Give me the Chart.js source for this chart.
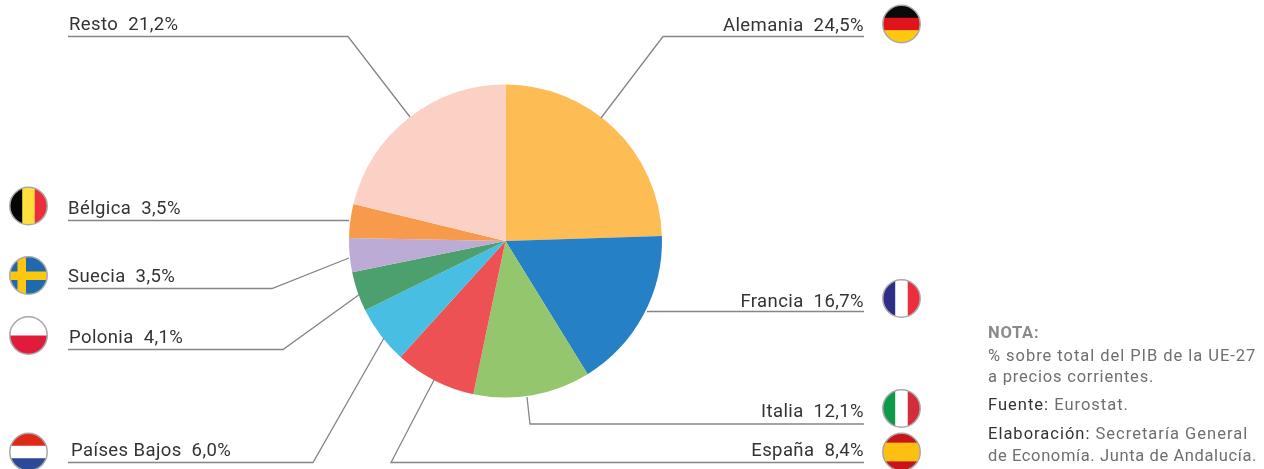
<!DOCTYPE html>
<html>
<head>
<meta charset="utf-8">
<style>
  html, body { margin: 0; padding: 0; background: #fff; overflow: hidden; }
  #wrap { width: 1264px; height: 469px; }
</style>
<script src="https://cdn.jsdelivr.net/npm/chart.js@4"></script>
</head>
<body>
<div id="wrap"><canvas id="chart" width="1264" height="469"></canvas></div>
<script>
// Values
const countries = ['Alemania', 'Francia', 'Italia', 'España', 'Países Bajos', 'Polonia', 'Suecia', 'Bélgica', 'Resto'];
const shares = [24.5, 16.7, 12.1, 8.4, 6.0, 4.1, 3.5, 3.5, 21.2];
const sliceColors = ['#fdbd54', '#2680c6', '#94c66e', '#ed5154', '#47bee2', '#4ca06e', '#bcabd4', '#f79a4b', '#fbd1c5'];

// Callout layout, same order as countries: leader polyline, label x, baseline, alignment
const callouts = [
  { line: [[601, 118], [663, 36.5], [864, 36.5]], x: 864, y: 31, align: 'right' },
  { line: [[647, 311.5], [864, 311.5]], x: 864, y: 307, align: 'right' },
  { line: [[527, 397], [530, 424], [864, 424]], x: 864, y: 417, align: 'right' },
  { line: [[434, 380], [391, 462.5], [864, 462.5]], x: 864, y: 456, align: 'right' },
  { line: [[384, 338], [313, 462.5], [68, 462.5]], x: 71, y: 456, align: 'left' },
  { line: [[360, 294], [283, 349.5], [68, 349.5]], x: 69, y: 343, align: 'left' },
  { line: [[349, 258], [272, 288.5], [68, 288.5]], x: 68, y: 282, align: 'left' },
  { line: [[349, 220.5], [68, 220.5]], x: 68, y: 214, align: 'left' },
  { line: [[410, 117], [348, 36.5], [68, 36.5]], x: 69, y: 30, align: 'left' }
];

const flags = [
  { cx: 901.5, cy: 24, dir: 'h', stripes: [['#0a0a0a', 1], ['#e1141b', 1], ['#fdc90f', 1]] },
  { cx: 901.5, cy: 298.5, dir: 'v', stripes: [['#2f2e87', 1], ['#ffffff', 1], ['#ec2d3c', 1]] },
  { cx: 901.5, cy: 408.5, dir: 'v', stripes: [['#0e9a4b', 1], ['#ffffff', 1], ['#d22e39', 1]] },
  { cx: 901.5, cy: 452, dir: 'h', stripes: [['#c8151c', 1], ['#fdbf10', 2], ['#c8151c', 1]] },
  { cx: 28.5, cy: 452, dir: 'h', stripes: [['#df2a17', 1], ['#ffffff', 1], ['#2d4a96', 1]] },
  { cx: 28.5, cy: 335.5, dir: 'h', stripes: [['#ffffff', 1], ['#e01b3c', 1]] },
  { cx: 28.5, cy: 275.5, dir: 'cross', stripes: [['#1f6aad', 1]] },
  { cx: 28.5, cy: 206, dir: 'v', stripes: [['#050505', 1], ['#fde03c', 1], ['#ec2d3c', 1]] }
];

// spacing is per line, the original face has other widths than Roboto
const noteLines = [
  { y: 338, spacing: 0.75, parts: [['NOTA:', '#8a8a8a', 'bold']] },
  { y: 361, spacing: 0.96, parts: [['% sobre total del PIB de la UE-27', '#6f6f6f', 'normal']] },
  { y: 382, spacing: 0.8, parts: [['a precios corrientes.', '#6f6f6f', 'normal']] },
  { y: 410, spacing: 1.0, parts: [['Fuente: ', '#333333', 'normal'], ['Eurostat.', '#6f6f6f', 'normal']] },
  { y: 439, spacing: 1.0, parts: [['Elaboración: ', '#333333', 'normal'], ['Secretaría General', '#6f6f6f', 'normal']] },
  { y: 461, spacing: 0.62, parts: [['de Economía. Junta de Andalucía.', '#6f6f6f', 'normal']] }
];

function formatShare(v) {
  return v.toFixed(1).replace('.', ',') + '%';
}

function drawFlag(ctx, flag) {
  const r = 18.7;
  ctx.save();
  ctx.beginPath();
  ctx.arc(flag.cx, flag.cy, r, 0, Math.PI * 2);
  ctx.clip();
  const total = flag.stripes.reduce((a, s) => a + s[1], 0);
  let pos = 0;
  flag.stripes.forEach(([color, size]) => {
    const len = (size / total) * r * 2;
    ctx.fillStyle = color;
    if (flag.dir === 'v') ctx.fillRect(flag.cx - r + pos, flag.cy - r, len + 0.5, r * 2);
    else ctx.fillRect(flag.cx - r, flag.cy - r + pos, r * 2, len + 0.5);
    pos += len;
  });
  if (flag.dir === 'cross') {
    ctx.fillStyle = '#fdc70f';
    ctx.fillRect(flag.cx - 11, flag.cy - r, 8.5, r * 2);
    ctx.fillRect(flag.cx - r, flag.cy - 4, r * 2, 8.5);
  }
  ctx.restore();
  ctx.beginPath();
  ctx.arc(flag.cx, flag.cy, r, 0, Math.PI * 2);
  ctx.strokeStyle = '#a8a8a8';
  ctx.lineWidth = 1.5;
  ctx.stroke();
}

const calloutPlugin = {
  id: 'callouts',
  afterDraw(chart) {
    const ctx = chart.ctx;
    ctx.save();
    ctx.textBaseline = 'alphabetic';
    ctx.strokeStyle = '#858585';
    ctx.lineWidth = 1.3;
    callouts.forEach((c, i) => {
      ctx.beginPath();
      c.line.forEach(([x, y], j) => (j ? ctx.lineTo(x, y) : ctx.moveTo(x, y)));
      ctx.stroke();
      ctx.font = '18.5px Roboto';
      ctx.letterSpacing = '0.4px';
      ctx.fillStyle = '#333333';
      ctx.textAlign = c.align;
      ctx.fillText(countries[i] + '  ' + formatShare(shares[i]), c.x, c.y);
    });
    flags.forEach(f => drawFlag(ctx, f));
    ctx.textAlign = 'left';
    noteLines.forEach(line => {
      let x = 988;
      ctx.letterSpacing = line.spacing + 'px';
      line.parts.forEach(([text, color, weight]) => {
        ctx.font = weight + ' 16.5px Roboto';
        ctx.fillStyle = color;
        ctx.fillText(text, x, line.y);
        x += ctx.measureText(text).width;
      });
    });
    ctx.restore();
  }
};

new Chart(document.getElementById('chart'), {
  type: 'pie',
  data: {
    labels: countries,
    datasets: [{ data: shares, backgroundColor: sliceColors, borderWidth: 0 }]
  },
  options: {
    responsive: false,
    animation: false,
    layout: { padding: { left: 0, right: 253, top: 84.5, bottom: 71.5 } },
    plugins: { legend: { display: false }, tooltip: { enabled: false } }
  },
  plugins: [calloutPlugin]
});
</script>
</body>
</html>
